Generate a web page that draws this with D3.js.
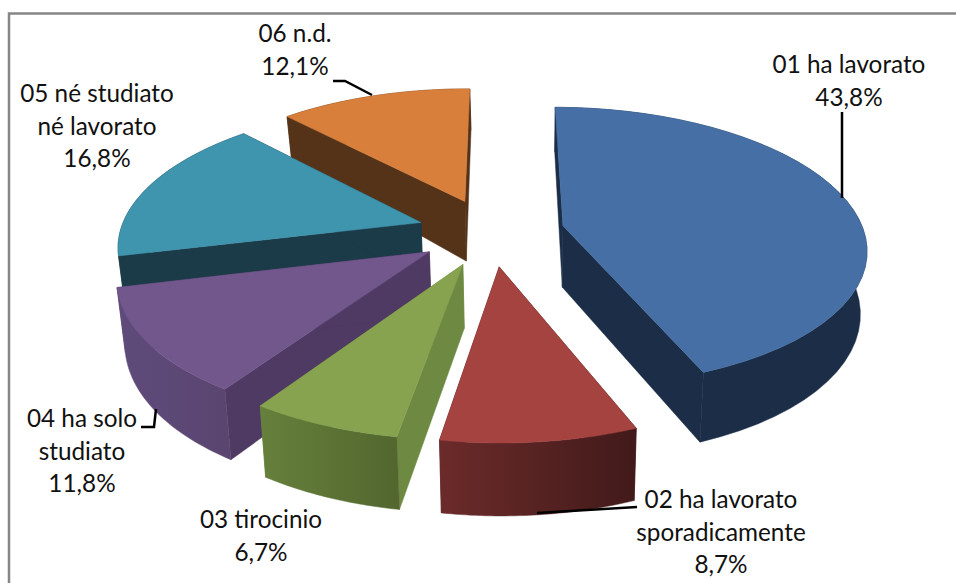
<!DOCTYPE html>
<html>
<head>
<meta charset="utf-8">
<script src="https://d3js.org/d3.v7.min.js"></script>
<style>
html, body { margin: 0; padding: 0; background: #fff; }
svg { display: block; }
text { font-family: Lato, "Open Sans", sans-serif; font-size: 24.3px; fill: #111; text-anchor: middle; }
</style>
</head>
<body>
<svg id="chart" width="956" height="583"></svg>
<script>
const categories = ['01 ha lavorato', '02 ha lavorato sporadicamente', '03 tirocinio', '04 ha solo studiato', '05 né studiato né lavorato', '06 n.d.'];
const values = [43.8, 8.7, 6.7, 11.8, 16.8, 12.1];
const valueLabels = ['43,8%', '8,7%', '6,7%', '11,8%', '16,8%', '12,1%'];

const topColors = ['#4670a5', '#a54340', '#87a34f', '#71578c', '#3f94ae', '#d77f3b'];
const cutColors = ['#1b2d47', '#421a1a', '#6e8a42', '#4e3a62', '#1b3b49', '#553318'];
const rimLeft = ['#1b2d47', '#6b2b2a', '#66803c', '#5f4b7b', '#1b3b49', '#553318'];
const rimRight = ['#1b2d47', '#421a1a', '#52662e', '#5a4570', '#1b3b49', '#553318'];

// label placement: text lines, centre x, first baseline, leader line
const labelLayout = [
    { lines: ['01 ha lavorato'], x: 849, y: 73, leader: [[842, 112], [842, 198]] },
    { lines: ['02 ha lavorato', 'sporadicamente'], x: 721, y: 508, leader: [[637, 507], [537, 513]] },
    { lines: ['03 tirocinio'], x: 261, y: 528, leader: null },
    { lines: ['04 ha solo', 'studiato'], x: 82, y: 427, leader: [[141, 427], [154, 427], [156, 409]] },
    { lines: ['05 né studiato', 'né lavorato'], x: 97, y: 102, leader: null },
    { lines: ['06 n.d.'], x: 295, y: 42, leader: [[333, 81], [345, 81], [372, 95]] }
];

const svg = d3.select('#chart');
const defs = svg.append('defs');

// 3d pie settings
const cx = 491, cy = 232, rx = 301, ry = 138;
const persp = 0.15;
const explode = 0.245;
const rotation = 0.35 * Math.PI / 180;
const vanishX = 40, shrink = 0.02;
const depth = d3.scaleLinear().domain([-1.25, -0.2, 1.25]).range([41, 60, 73]);

const project = (X, Y, bottom) => {
    const s = 1 / (1 - persp * Y);
    let x = rx * X * s;
    let y = ry * Y * s;
    if (bottom) {
        x += (vanishX - x) * shrink;
        y += depth(Y);
    }
    return [cx + x, cy + y];
};

const line = d3.line();
const slices = d3.pie().sort(null).value(d => d)
    .startAngle(rotation).endAngle(rotation + 2 * Math.PI)(values).map((d, i) => {
    const mid = (d.startAngle + d.endAngle) / 2;
    const ox = explode * Math.sin(mid), oy = -explode * Math.cos(mid);
    const apex = [ox, oy];
    const rim = d3.range(0, 41).map(j => {
        const a = d.startAngle + (d.endAngle - d.startAngle) * j / 40;
        return [ox + Math.sin(a), oy - Math.cos(a)];
    });
    return { i, mid, apex, rim };
});

// back slices first
const order = slices.slice().sort((a, b) => Math.cos(b.mid) - Math.cos(a.mid));

const face = (g, pts, fill) => g.append('path')
    .attr('d', line(pts) + 'Z')
    .attr('fill', fill)
    .attr('stroke', fill)
    .attr('stroke-width', 0.5);

order.forEach(sl => {
    const g = svg.append('g').attr('class', 'slice');
    const i = sl.i;
    const ap = sl.apex;
    const first = sl.rim[0], last = sl.rim[sl.rim.length - 1];
    const quad = p => [project(ap[0], ap[1], false), project(p[0], p[1], false), project(p[0], p[1], true), project(ap[0], ap[1], true)];

    face(g, quad(first), cutColors[i]);
    face(g, quad(last), cutColors[i]);

    const topArc = sl.rim.map(p => project(p[0], p[1], false));
    const botArc = sl.rim.map(p => project(p[0], p[1], true));
    const xs = d3.extent(topArc.concat(botArc), p => p[0]);
    const grad = defs.append('linearGradient')
        .attr('id', 'rim' + i)
        .attr('gradientUnits', 'userSpaceOnUse')
        .attr('x1', xs[0]).attr('x2', xs[1]).attr('y1', 0).attr('y2', 0);
    grad.append('stop').attr('offset', 0).attr('stop-color', rimLeft[i]);
    grad.append('stop').attr('offset', 1).attr('stop-color', rimRight[i]);
    face(g, topArc.concat(botArc.slice().reverse()), `url(#rim${i})`);

    face(g, [project(ap[0], ap[1], false)].concat(topArc), topColors[i]);
});

// frame, only top and left sides are in the picture
svg.append('path')
    .attr('d', line([[9, 583], [9, 13.5], [956, 13.5]]))
    .attr('fill', 'none')
    .attr('stroke', '#868686')
    .attr('stroke-width', 2.5);

labelLayout.forEach((l, i) => {
    if (l.leader) {
        svg.append('path')
            .attr('d', line(l.leader))
            .attr('fill', 'none')
            .attr('stroke', '#000')
            .attr('stroke-width', 2.5);
    }
    const t = svg.append('text').attr('y', l.y);
    l.lines.concat([valueLabels[i]]).forEach((s, j) => {
        t.append('tspan').attr('x', l.x).attr('dy', j ? 32.5 : 0).text(s);
    });
});
</script>
</body>
</html>
